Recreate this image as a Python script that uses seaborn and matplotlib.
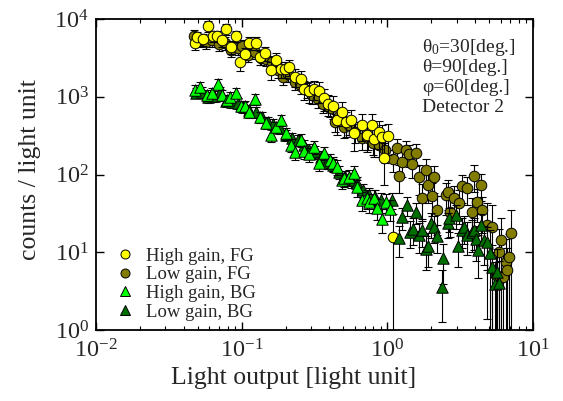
import numpy as np
import pandas as pd
import matplotlib
matplotlib.use("Agg")
import matplotlib.pyplot as plt
import matplotlib.transforms as mtransforms
from matplotlib.lines import Line2D
from matplotlib.ticker import LogLocator, NullLocator, NullFormatter
import seaborn as sns

# High gain, foreground
HG_FG_X = [0.0477, 0.0491, 0.0541, 0.0585, 0.0633, 0.0673, 0.0730, 0.0777, 0.0841, 0.0909,
           0.0969, 0.105, 0.113, 0.125, 0.133, 0.144, 0.158, 0.171, 0.185, 0.197,
           0.213, 0.234, 0.254, 0.270, 0.292, 0.316, 0.342, 0.370, 0.394, 0.421,
           0.448, 0.485, 0.524, 0.566, 0.594, 0.666, 0.720, 0.779, 0.815, 0.881,
           0.924, 0.953, 1.01, 1.09]
HG_FG_Y = [4900, 5900, 5500, 8100, 6050, 6050, 5370, 7400, 4350, 6050,
           2800, 3540, 4900, 4900, 3230, 3640, 2210, 2970, 2270, 2270,
           2410, 1800, 1690, 1260, 1180, 1260, 1180, 960, 810, 760,
           500, 640, 470, 500, 340, 433, 322, 433, 290, 350,
           300, 163, 310, 15.7]
HG_FG_ERR = [900, 1000, 1000, 1300, 1000, 1000, 950, 1200, 850, 1000,
             650, 750, 900, 900, 700, 750, 550, 650, 550, 550,
             550, 450, 450, 350, 350, 350, 350, 300, 250, 250,
             180, 220, 170, 180, 140, 160, 130, 160, 120, 140,
             130, 90, 130, 15]

# Low gain, foreground
LG_FG_X = [0.0469, 0.0516, 0.0567, 0.0624, 0.0695, 0.0765, 0.0841, 0.0939, 0.101, 0.111,
           0.123, 0.135, 0.148, 0.161, 0.177, 0.191, 0.209, 0.231, 0.254, 0.279,
           0.306, 0.332, 0.364, 0.401, 0.434, 0.469, 0.508, 0.549, 0.604, 0.666,
           0.731, 0.803, 0.881, 0.968,
           1.09, 1.16, 1.21, 1.27, 1.35, 1.41, 1.48, 1.58, 1.66, 1.74,
           1.84, 1.91, 2.03, 2.10, 2.21, 2.52, 2.62, 2.70, 2.88, 3.11,
           3.26, 3.54, 3.81, 3.94, 4.13, 4.41, 4.47, 4.84, 5.24, 5.59,
           5.85, 6.05, 6.20, 6.53, 6.63, 6.85, 7.07]
LG_FG_Y = [6060, 5370, 5060, 5370, 4770, 4920, 3990, 4220, 4480, 3440,
           3760, 3160, 3060, 2800, 2210, 1800, 1960, 1550, 1380, 1220,
           1050, 935, 810, 715, 473, 565, 407, 433, 352, 294,
           294, 254, 239, 207,
           158, 219, 95.5, 144, 207, 183, 136, 189, 92.7, 50,
           114, 73, 53, 92.7, 34.9, 54.5, 59.5, 32.9, 50, 43,
           71, 67, 32.9, 95.5, 44.3, 73, 34.9, 22.4, 21, 5.1,
           10.1, 14.4, 4.8, 7.5, 5.9, 8.7, 17.7]
LG_FG_ERR = [1150, 1000, 950, 1000, 900, 900, 750, 800, 850, 650,
             700, 600, 600, 550, 450, 380, 400, 330, 300, 270,
             240, 220, 190, 170, 120, 140, 110, 115, 100, 85,
             85, 75, 72, 65,
             50, 65, 38, 50, 62, 58, 47, 60, 38, 25,
             42, 30, 24, 35, 18, 24, 25, 17, 22, 20,
             28, 26, 17, 36, 20, 28, 17, 21, 20, 4.9,
             9.6, 13.5, 4.6, 7.1, 5.6, 8.3, 16.8]

# High gain, background
HG_BG_X = [0.0477, 0.0516, 0.0576, 0.0624, 0.0684, 0.0730, 0.0790, 0.0828, 0.0909, 0.0984,
           0.105, 0.113, 0.123, 0.133, 0.146, 0.158, 0.171, 0.185, 0.200, 0.217,
           0.234, 0.254, 0.270, 0.292, 0.316, 0.337, 0.370, 0.401, 0.421, 0.448,
           0.485, 0.508, 0.549, 0.594, 0.623, 0.674, 0.720, 0.753, 0.815, 0.854,
           0.924, 0.983, 1.05]
HG_BG_Y = [1220, 1330, 1050, 1130, 1460, 1050, 908, 990, 1130, 760,
           760, 633, 935, 550, 462, 322, 407, 502, 342, 239,
           195, 278, 200, 183, 225, 140, 189, 154, 140, 125,
           85, 90, 93, 105, 69, 47, 50, 44, 50, 37,
           26.8, 44, 36]
HG_BG_ERR = [180, 200, 160, 170, 210, 160, 140, 150, 170, 120,
             120, 100, 140, 90, 80, 60, 70, 80, 60, 45,
             40, 50, 40, 37, 42, 30, 37, 32, 30, 27,
             20, 21, 22, 24, 17, 13, 14, 12, 14, 11,
             9, 12, 11]

# Low gain, background
LG_BG_X = [0.0484, 0.0533, 0.0585, 0.0643, 0.0707, 0.0777, 0.0855, 0.0939, 0.103, 0.113,
           0.125, 0.137, 0.151, 0.165, 0.182, 0.200, 0.220, 0.242, 0.266, 0.292,
           0.321, 0.353, 0.388, 0.427, 0.469, 0.516, 0.566, 0.623, 0.686, 0.753,
           0.828, 0.910,
           1.07, 1.21, 1.27, 1.37, 1.43, 1.51, 1.58, 1.66, 1.74, 1.84,
           1.91, 2.00, 2.10, 2.21, 2.38, 2.42, 2.60, 2.66, 2.98, 3.07,
           3.26, 3.37, 3.54, 3.81, 3.94, 4.07, 4.20, 4.41, 4.62, 4.84,
           5.08, 5.24, 5.50, 5.67, 5.85]
LG_BG_Y = [1130, 1160, 990, 1020, 1160, 880, 860, 830, 735, 675,
           633, 550, 473, 445, 395, 322, 294, 278, 239, 207,
           195, 168, 144, 132, 108, 93, 85, 78, 63, 54.5,
           51.5, 47,
           47, 15.2, 28.3, 40.5, 18.2, 19.9, 32.9, 16.7, 19.3, 11,
           12, 23.8, 21.2, 16.2, 3.57, 8.45, 23.8, 27.6, 30.1, 12,
           19.3, 21.2, 16.7, 18.2, 19.3, 14.8, 10.7, 22.4, 14.4, 13.5,
           9.8, 6.45, 3.9, 5.6, 4.0]
LG_BG_ERR = [180, 185, 160, 165, 185, 145, 140, 135, 120, 110,
             105, 90, 80, 75, 67, 55, 50, 48, 42, 37,
             35, 30, 27, 25, 21, 19, 17, 16, 13, 12,
             11, 10.5,
             11, 6.5, 9, 11, 7, 7.5, 10, 6.8, 7.5, 5,
             5.5, 8.5, 8, 6.5, 2.3, 4.5, 8.5, 9.5, 10, 5.5,
             8, 8.5, 7.5, 8, 8.5, 7, 6, 9, 7.5, 7.5,
             9.3, 6.1, 3.7, 5.3, 3.8]

SERIES = ["High gain, FG", "Low gain, FG", "High gain, BG", "Low gain, BG"]
DATA = {
    "High gain, FG": (HG_FG_X, HG_FG_Y, HG_FG_ERR),
    "Low gain, FG": (LG_FG_X, LG_FG_Y, LG_FG_ERR),
    "High gain, BG": (HG_BG_X, HG_BG_Y, HG_BG_ERR),
    "Low gain, BG": (LG_BG_X, LG_BG_Y, LG_BG_ERR),
}

# marker, face color, marker area, zorder
STYLE = {
    "High gain, FG": ("o", "#ffff00", 58, 3),
    "Low gain, FG": ("o", "#827c00", 58, 2),
    "High gain, BG": ("^", "#00ff00", 68, 5),
    "Low gain, BG": ("^", "#006e00", 68, 4),
}

ANNOTATION = [r"$\mathrm{θ}_0$=30[deg.]", "θ=90[deg.]", "φ=60[deg.]", "Detector 2"]


def main():
    sns.set_style("ticks")
    plt.rcParams['font.family'] = ['Liberation Serif', 'DejaVu Serif']
    plt.rcParams['mathtext.fontset'] = 'custom'
    plt.rcParams['mathtext.rm'] = 'Liberation Serif'
    plt.rcParams['mathtext.it'] = 'Liberation Serif:italic'
    plt.rcParams['mathtext.bf'] = 'Liberation Serif:bold'

    rows = []
    for name in SERIES:
        xs, ys, es = DATA[name]
        for x, y, e in zip(xs, ys, es):
            rows.append([name, x, y, e])
    df = pd.DataFrame(rows, columns=['series', 'x', 'y', 'err'])

    fig, ax = plt.subplots(figsize=(5.63, 4.01), dpi=100)
    fig.subplots_adjust(left=0.1705, right=0.9467, top=0.9526, bottom=0.177)

    for name in SERIES:
        marker, color, size, z = STYLE[name]
        sub = df[df['series'] == name]
        ax.errorbar(sub['x'], sub['y'], yerr=sub['err'], fmt='none',
                    ecolor='black', elinewidth=0.8, capsize=3, capthick=0.8,
                    zorder=z)
        sns.scatterplot(data=sub, x='x', y='y', marker=marker, color=color,
                        s=size, edgecolor='black', linewidth=0.7,
                        zorder=z + 0.5, legend=False, ax=ax)

    ax.set_xscale('log')
    ax.set_yscale('log')
    ax.set_xlim(1e-2, 10)
    ax.set_ylim(1, 1e4)
    ax.yaxis.set_major_locator(LogLocator(base=10, numticks=10))
    ax.yaxis.set_minor_locator(NullLocator())
    ax.xaxis.set_minor_locator(LogLocator(base=10, subs=range(2, 10), numticks=20))
    ax.xaxis.set_minor_formatter(NullFormatter())
    ax.tick_params(which='both', direction='in', top=True, right=True,
                   color='black')
    ax.tick_params(which='major', length=6, width=1.0, labelsize=17.5)
    ax.tick_params(axis='x', which='major', pad=7)
    ax.tick_params(axis='y', which='major', pad=5)
    ax.tick_params(which='minor', length=3, width=0.8)
    for sp in ax.spines.values():
        sp.set_color('black')
        sp.set_linewidth(1.3)

    # the 10^0 label sits right on the corner; lift it a touch so it
    # clears the 10^-2 label below
    fig.canvas.draw()
    lift = mtransforms.ScaledTranslation(0, 3 / 72, fig.dpi_scale_trans)
    low = ax.yaxis.get_major_ticks()[0].label1
    low.set_transform(low.get_transform() + lift)

    ax.set_xlabel("Light output [light unit]", fontsize=18.5)
    ax.set_ylabel("counts / light unit", fontsize=18.5)
    ax.xaxis.set_label_coords(0.453, -0.118)
    ax.yaxis.set_label_coords(-0.125, 0.515)

    for i, line in enumerate(ANNOTATION):
        ax.text(0.746, 0.907 - i * 0.0635, line, transform=ax.transAxes,
                fontsize=14, ha='left', va='center')

    handles = []
    for name in SERIES:
        marker, color, size, z = STYLE[name]
        handles.append(Line2D([], [], linestyle='none', marker=marker,
                              markerfacecolor=color, markeredgecolor='black',
                              markeredgewidth=0.7, markersize=6.5))
    ax.legend(handles, SERIES, loc='upper left', bbox_to_anchor=(0.045, 0.265),
              frameon=False, fontsize=13.5, handlelength=1.0,
              handletextpad=0.6, labelspacing=0.08, borderpad=0,
              borderaxespad=0)

    fig.savefig("out.png", dpi=100)
    plt.close()


if __name__ == '__main__':
    main()
